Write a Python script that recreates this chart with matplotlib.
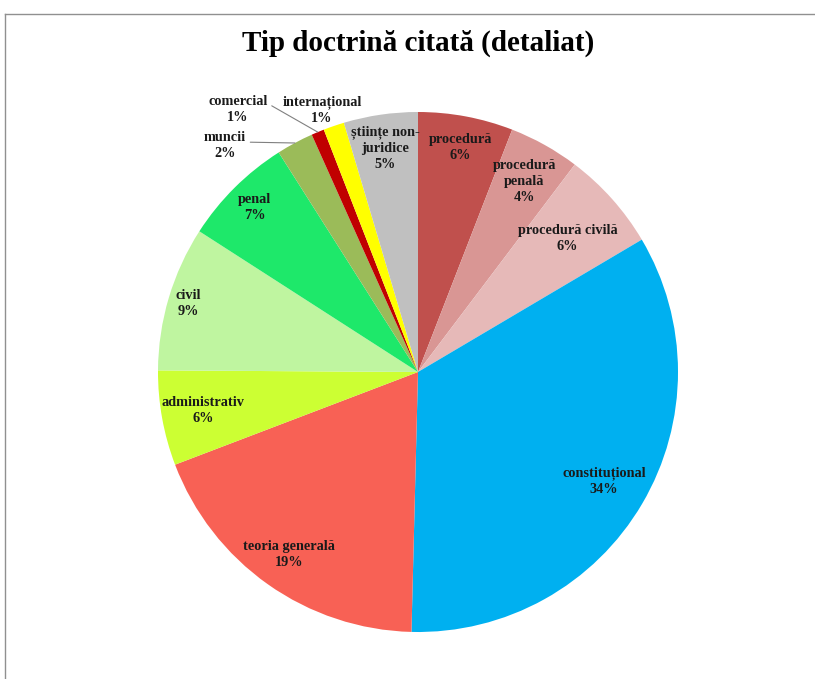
import numpy as np
import matplotlib
matplotlib.use('Agg')
import matplotlib.pyplot as plt
from matplotlib.lines import Line2D

categories = ['procedură', 'procedură\npenală', 'procedură civilă', 'constituțional',
              'teoria generală', 'administrativ', 'civil', 'penal', 'muncii',
              'comercial', 'internațional', 'științe non-\njuridice']
values = [5.9, 4.4, 6.2, 33.9, 18.8, 5.9, 9.0, 6.9, 2.3, 0.8, 1.3, 4.6]
colors = ['#C0504D', '#D99694', '#E6B9B8', '#00B0F0', '#F86155', '#CCFF33',
          '#BFF5A0', '#1EE86A', '#9BBB59', '#C00000', '#FFFF00', '#C0C0C0']
# radial placement of inside labels (None = outside label)
label_r = [0.88, 0.84, 0.77, 0.83, 0.86, 0.84, 0.92, 0.89, None, None, None, 0.87]
outside_xy = {8: (-0.742, 0.873), 9: (-0.692, 1.008), 10: (-0.369, 1.008)}

W, H = 815, 679
fig = plt.figure(figsize=(W / 100, H / 100), dpi=100)
fig.patch.set_facecolor('white')

# chart border (left and top visible)
fig.add_artist(Line2D([5 / W, 5 / W], [0, 1 - 14 / H], color='#909090', lw=1.0))
fig.add_artist(Line2D([5 / W, 1], [1 - 14 / H, 1 - 14 / H], color='#909090', lw=1.0))

cx, cy, r = 418, 372, 260
ax = fig.add_axes([(cx - r) / W, (H - cy - r) / H, 2 * r / W, 2 * r / H])
wedges, _ = ax.pie(values, colors=colors, startangle=90, counterclock=False,
                   wedgeprops=dict(linewidth=0))
ax.set_xlim(-1, 1)
ax.set_ylim(-1, 1)
ax.axis('off')

fnt = dict(family='Liberation Serif', fontweight='bold', fontsize=10.3,
           ha='center', va='center', color='#1a1a1a', linespacing=1.3)

for i, w in enumerate(wedges):
    mid = np.deg2rad((w.theta1 + w.theta2) / 2)
    txt = f"{categories[i]}\n{values[i]:.0f}%"
    if label_r[i] is not None:
        ax.text(label_r[i] * np.cos(mid), label_r[i] * np.sin(mid), txt, **fnt)
    else:
        ex, ey = np.cos(mid), np.sin(mid)
        tx, ty = outside_xy[i]
        if i == 10:
            ax.text(tx, ty, txt, **fnt)
        else:
            ax.annotate(txt, xy=(ex, ey), xytext=(tx, ty), **fnt,
                        arrowprops=dict(arrowstyle='-', color='#808080', lw=0.8,
                                        shrinkA=1, shrinkB=0,
                                        relpos=(1.0, 0.72 if i == 9 else 0.6)))

fig.text(418 / W, 1 - 43 / H, 'Tip doctrină citată (detaliat)', family='Liberation Serif',
         fontweight='bold', fontsize=21, ha='center', va='center')

fig.savefig('out.png', dpi=100)
